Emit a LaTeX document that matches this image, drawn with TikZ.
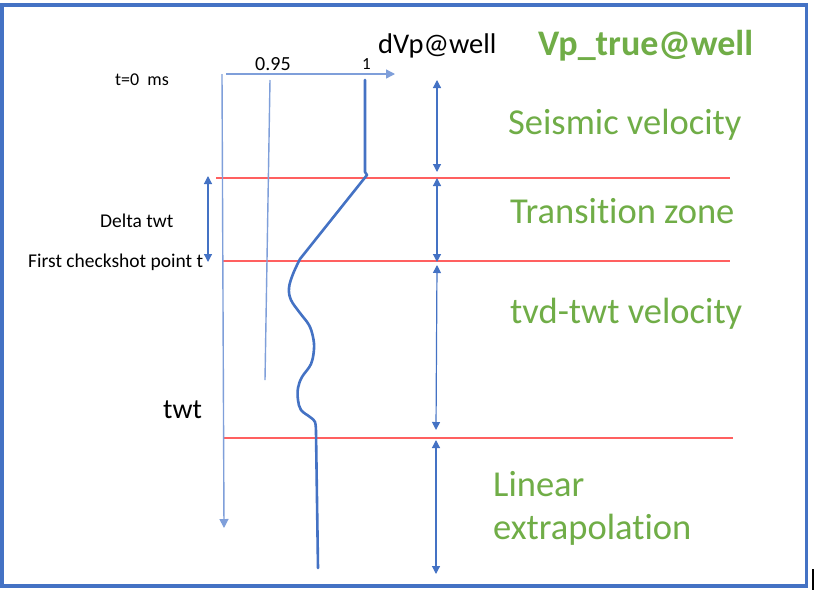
\documentclass[tikz,border=0pt]{standalone}
\usepackage{fontspec}
\setmainfont[Ligatures=NoCommon]{Carlito}
\usetikzlibrary{arrows.meta}
\definecolor{fblue}{HTML}{4472C4}
\definecolor{lblue}{HTML}{7F9FDA}
\definecolor{fgreen}{HTML}{70AD47}
\definecolor{fred}{HTML}{FF6060}
\tikzset{
  frame/.style={draw=fblue,line width=3.5pt},
  axisline/.style={draw=lblue,line width=1.4pt,-{Triangle[length=9pt,width=9pt]}},
  refline/.style={draw=lblue,line width=1.4pt},
  curve/.style={draw=fblue,line width=2.6pt,line join=round,line cap=round},
  zone/.style={draw=fred,line width=1.8pt},
  span/.style={draw=fblue,line width=1.2pt,{Triangle[length=8pt,width=8pt]}-{Triangle[length=8pt,width=8pt]}},
  lbl/.style={anchor=base west,inner sep=0pt,text=black},
  zlbl/.style={anchor=base west,inner sep=0pt,text=fgreen,font=\fontsize{36.5}{40}\selectfont},
}
\begin{document}
\begin{tikzpicture}[x=1pt,y=-1pt]
\useasboundingbox (0,0) rectangle (814,598);
\fill[white] (0,0) rectangle (814,598);
\draw[frame] (2,5) rectangle (806.5,586);
\draw[black,line width=2pt] (812.5,569) -- (812.5,590);
% coordinates
\coordinate (ytop) at (222,74);
\coordinate (ybot) at (224,528);
\coordinate (xleft) at (226,74);
\coordinate (xright) at (395,74);
\coordinate (rtop) at (270,80);
\coordinate (rbot) at (265,380);
% zone lines
\coordinate (z1a) at (216,178); \coordinate (z1b) at (730,178);
\coordinate (z2a) at (222,261); \coordinate (z2b) at (730,261);
\coordinate (z3a) at (224,438); \coordinate (z3b) at (733,438);
\draw[zone] (z1a) -- (z1b);
\draw[zone] (z2a) -- (z2b);
\draw[zone] (z3a) -- (z3b);
% axes
\draw[axisline] (ytop) -- (ybot);
\draw[axisline] (xleft) -- (xright);
\draw[refline] (rtop) -- (rbot);
% curve
\draw[curve] (365,80) -- (365,172) -- (367,175) -- (300,259)
  plot[smooth,tension=0.6] coordinates {(300,259) (293,274) (289,288) (291,300) (300,313) (309,325) (313,337) (314,349) (311,364) (302,377) (298,388) (298,400) (301,410) (310,417) (315,422) (316,432)}
  -- (318,568);
% spans
\coordinate (a1t) at (437,80);  \coordinate (a1b) at (437,172);
\coordinate (a2t) at (437,178); \coordinate (a2b) at (437,262);
\coordinate (a3t) at (437,265); \coordinate (a3b) at (436,430);
\coordinate (a4t) at (436,440); \coordinate (a4b) at (436,574);
\coordinate (dt) at (208,176);  \coordinate (db) at (208,262);
\draw[span] (a1t) -- (a1b);
\draw[span] (a2t) -- (a2b);
\draw[span] (a3t) -- (a3b);
\draw[span] (a4t) -- (a4b);
\draw[span] (dt) -- (db);
% labels
\node[lbl,font=\fontsize{18}{20}\selectfont] (t0) at (115,85) {t=0\ \ ms};
\node[lbl,font=\fontsize{20}{24}\selectfont] (n95) at (255,70) {0.95};
\node[lbl,font=\fontsize{17}{20}\selectfont] (n1) at (362,69) {1};
\node[lbl,font=\fontsize{28.5}{30}\selectfont] (dvp) at (378,53) {dVp@well};
\node[lbl,text=fgreen,font=\fontsize{36}{40}\selectfont\bfseries] (vpt) at (538,55) {Vp\_true@well};
\node[zlbl] (seis) at (508,134) {Seismic velocity};
\node[zlbl] (trans) at (510,223) {Transition zone};
\node[zlbl] (tvd) at (510,323) {tvd-twt velocity};
\node[zlbl] (lin) at (493,496) {Linear};
\node[zlbl] (extra) at (493,539) {extrapolation};
\node[lbl,font=\fontsize{19.5}{22}\selectfont] (dtwt) at (100,227) {Delta twt};
\node[lbl,font=\fontsize{19.5}{22}\selectfont] (fcp) at (28,267) {First checkshot point t};
\node[lbl,font=\fontsize{28}{32}\selectfont] (twt) at (163,418) {twt};
\end{tikzpicture}
\end{document}
